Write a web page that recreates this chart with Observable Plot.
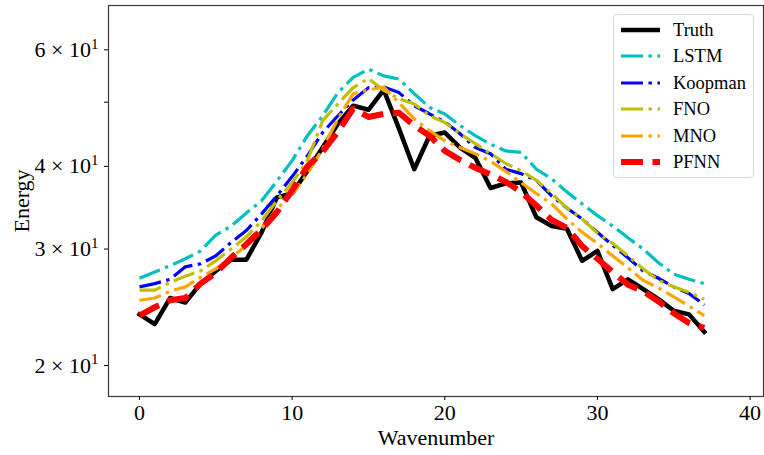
<!DOCTYPE html>
<html>
<head>
<meta charset="utf-8">
<script src="https://cdn.jsdelivr.net/npm/d3@7"></script>
<script src="https://cdn.jsdelivr.net/npm/@observablehq/plot@0.6"></script>
<style>
  html, body { margin: 0; padding: 0; background: #fff; }
  #wrap { position: relative; width: 764px; height: 455px; font-family: "Liberation Serif", "Times New Roman", serif; }
  #legend { position: absolute; left: 613px; top: 14px; width: 141px; height: 164px; border: 1px solid #d8d8d8; border-radius: 4px; background: rgba(255,255,255,0.85); box-sizing: border-box; }
  .row { position: absolute; left: 0; height: 26px; width: 140px; }
  .row svg { position: absolute; left: 6px; top: 0; }
  .row span { position: absolute; left: 59px; top: 2px; font-size: 18.5px; line-height: 22px; color: #000; }
</style>
</head>
<body>
<div id="wrap"></div>
<script>
const wavenumber = [0,1,2,3,4,5,6,7,8,9,10,11,12,13,14,15,16,17,18,19,20,21,22,23,24,25,26,27,28,29,30,31,32,33,34,35,36,37];

const truth   = [23.9,23.1,25.3,24.9,26.6,27.8,28.9,28.9,31.8,35.9,36.4,39.4,42.7,46.4,49.4,48.7,52.2,45.6,39.6,44.5,45.0,42.7,41.2,37.1,37.7,37.8,33.5,32.5,32.2,28.8,29.8,26.1,27.0,26.1,25.2,24.2,23.9,22.5];
const lstm    = [27.1,27.7,28.3,29.0,29.8,31.5,32.5,34.0,35.5,38.0,40.8,44.5,47.7,51.7,54.5,56.1,54.8,54.2,51.5,49.1,48.0,46.1,44.5,43.2,42.2,42.0,39.6,38.3,36.6,35.1,33.7,32.5,31.2,30.0,28.6,27.5,27.0,26.6];
const koopman = [26.3,26.6,27.0,28.2,28.5,29.3,30.7,32.0,33.9,36.1,38.6,41.5,45.0,47.7,50.4,52.6,52.7,51.7,49.4,48.0,46.7,44.8,42.7,41.8,39.6,39.0,38.1,36.1,34.6,33.3,31.8,30.4,29.1,27.8,27.1,26.3,25.7,24.7];
const fno     = [26.0,26.0,26.7,27.3,27.8,28.8,30.0,31.3,33.1,35.5,37.8,40.8,46.9,49.7,52.6,54.3,52.1,50.6,49.7,47.7,46.6,44.8,43.3,41.8,40.4,39.4,38.1,36.4,34.6,33.3,31.7,30.6,29.3,28.0,26.9,26.3,25.8,25.2];
const mno     = [25.1,25.3,25.9,26.3,27.2,28.0,29.1,30.4,32.2,34.5,36.3,39.0,42.5,47.2,51.5,52.2,52.7,49.9,47.2,45.3,43.7,42.7,41.8,40.7,39.3,37.8,36.4,35.1,33.3,31.8,30.6,29.3,28.1,26.9,26.2,25.4,24.6,23.8];
const pfnn    = [23.8,24.5,25.1,25.3,26.6,27.6,29.1,30.5,32.1,34.1,36.8,40.0,42.1,45.1,48.9,47.5,48.0,48.2,46.1,44.5,42.2,40.9,39.8,38.9,37.9,36.6,34.9,33.2,32.3,30.3,29.0,27.7,26.5,25.9,25.0,24.0,23.2,22.8];

const seriesNames = ["Truth", "LSTM", "Koopman", "FNO", "MNO", "PFNN"];
const seriesValues = [truth, lstm, koopman, fno, mno, pfnn];
const seriesColors = ["#000000", "#00bfbf", "#0000ff", "#bfbf00", "#ffa500", "#ff0000"];
const seriesWidths = [4.5, 3.2, 3.2, 3.2, 3.2, 6];
const seriesDashes = [null, "22,5.5,3.4,5.5", "22,5.5,3.4,5.5", "22,5.5,3.4,5.5", "22,5.5,3.4,5.5", "22,9.5"];

const xTicks = [0, 10, 20, 30, 40];
const yTicks = [20, 30, 40, 50, 60];
const yTickMantissa = ["2", "3", "4", "", "6"];
const yTickExponent = "1";

const lineMarks = seriesNames.map((name, s) => {
  const rows = wavenumber.map((k, i) => ({k, v: seriesValues[s][i]}));
  const opts = {x: "k", y: "v", stroke: seriesColors[s], strokeWidth: seriesWidths[s],
    strokeLinejoin: "round", strokeLinecap: s === 0 ? "square" : "butt"};
  if (seriesDashes[s]) opts.strokeDasharray = seriesDashes[s];
  return Plot.line(rows, opts);
});

const chart = Plot.plot({
  width: 764,
  height: 455,
  marginLeft: 108,
  marginRight: 1,
  marginTop: 5,
  marginBottom: 59,
  style: {fontFamily: '"Liberation Serif", "Times New Roman", serif', fontSize: "22px", background: "white", color: "black"},
  x: {domain: [-2.03, 40.88]},
  y: {type: "log", domain: [17.96, 70]},
  marks: [
    ...lineMarks,
    Plot.frame({stroke: "#3a3a3a", strokeWidth: 1.2}),
    Plot.axisX({ticks: xTicks, tickSize: 4, tickPadding: 4, fontSize: 22, tickFormat: d => String(d),
      label: "Wavenumber", labelAnchor: "center", labelOffset: 48, labelArrow: "none"}),
    Plot.axisY({ticks: yTicks, tickSize: 4, tickPadding: 6, fontSize: 22,
      tickFormat: d => { const m = yTickMantissa[yTicks.indexOf(d)]; return m ? m + " × 10" + "\u200b" : ""; },
      label: "Energy", labelAnchor: "center", labelOffset: 95, labelArrow: "none"})
  ]
});

// turn the y tick labels into mantissa × 10 with a raised exponent
chart.querySelectorAll("text").forEach(t => {
  const txt = t.textContent;
  if (txt.includes("×")) {
    const base = txt.replace("\u200b", "");
    while (t.firstChild) t.removeChild(t.firstChild);
    const ns = "http://www.w3.org/2000/svg";
    const a = document.createElementNS(ns, "tspan");
    a.textContent = base;
    const b = document.createElementNS(ns, "tspan");
    b.textContent = yTickExponent;
    b.setAttribute("dy", "-0.55em");
    b.setAttribute("font-size", "15px");
    t.appendChild(a);
    t.appendChild(b);
  }
});

const wrap = document.getElementById("wrap");
wrap.appendChild(chart);

// legend
const legend = document.createElement("div");
legend.id = "legend";
seriesNames.forEach((name, s) => {
  const row = document.createElement("div");
  row.className = "row";
  row.style.top = (2 + 26.4 * s) + "px";
  const dash = seriesDashes[s] ? ` stroke-dasharray="${seriesDashes[s]}"` : "";
  row.innerHTML = `<svg width="42" height="26"><line x1="1" x2="40" y1="13" y2="13" stroke="${seriesColors[s]}" stroke-width="${seriesWidths[s]}"${dash} /></svg><span>${name}</span>`;
  legend.appendChild(row);
});
wrap.appendChild(legend);
</script>
</body>
</html>
